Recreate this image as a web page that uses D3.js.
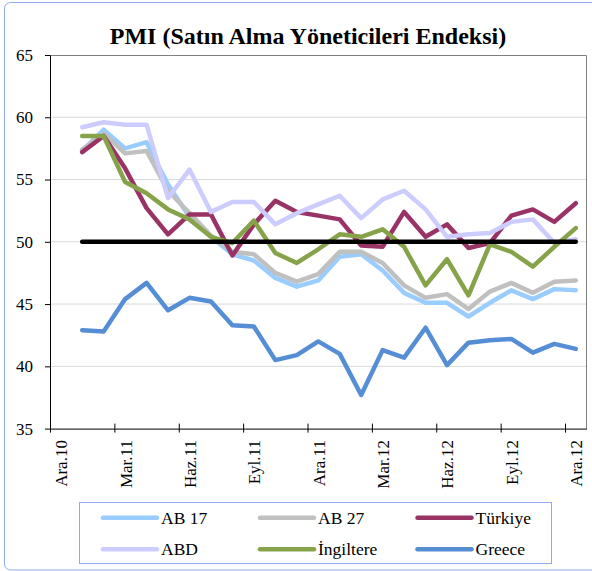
<!DOCTYPE html>
<html><head><meta charset="utf-8">
<script src="https://cdn.jsdelivr.net/npm/d3@7"></script>
<style>
body{margin:0;background:#fff}
svg{display:block}
text{font-family:"Liberation Serif","Times New Roman",serif;fill:#000}
</style>
</head><body>
<svg id="c" width="592" height="571"></svg>
<script>
// ---- data ----
const tickIdx = [0, 3, 6, 9, 12, 15, 18, 21, 24];
const tickLabels = ["Ara.10", "Mar.11", "Haz.11", "Eyl.11", "Ara.11", "Mar.12", "Haz.12", "Eyl.12", "Ara.12"];
const yTicks = [35, 40, 45, 50, 55, 60, 65];
const seriesNames = ["AB 17", "AB 27", "Türkiye", "ABD", "İngiltere", "Greece"];
const ab17 = [57.3, 59.0, 57.5, 58.0, 54.6, 52.0, 50.4, 49.0, 48.5, 47.1, 46.4, 46.9, 48.8, 49.0, 47.7, 45.9, 45.1, 45.1, 44.0, 45.1, 46.1, 45.4, 46.2, 46.1];
const ab27 = [57.4, 58.7, 57.1, 57.3, 54.1, 52.3, 50.5, 49.2, 49.0, 47.5, 46.8, 47.4, 49.2, 49.2, 48.3, 46.5, 45.5, 45.8, 44.6, 46.0, 46.7, 45.9, 46.8, 46.9];
const turkiye = [57.2, 58.5, 55.9, 52.7, 50.6, 52.2, 52.2, 48.9, 51.4, 53.3, 52.4, 52.1, 51.8, 49.7, 49.6, 52.4, 50.4, 51.4, 49.5, 49.9, 52.1, 52.6, 51.6, 53.1];
const abd = [59.2, 59.6, 59.4, 59.4, 53.5, 55.8, 52.4, 53.2, 53.2, 51.4, 52.3, 53.0, 53.7, 51.9, 53.4, 54.1, 52.6, 50.4, 50.6, 50.7, 51.6, 51.8, 49.9, 50.2];
const ingiltere = [58.5, 58.5, 54.8, 53.9, 52.6, 51.8, 50.4, 49.9, 51.7, 49.1, 48.3, 49.4, 50.6, 50.4, 51.0, 49.6, 46.5, 48.6, 45.7, 49.8, 49.2, 48.0, 49.6, 51.1];
const greece = [42.9, 42.8, 45.4, 46.7, 44.5, 45.5, 45.2, 43.3, 43.2, 40.5, 40.9, 42.0, 41.0, 37.7, 41.3, 40.7, 43.1, 40.1, 41.9, 42.1, 42.2, 41.1, 41.8, 41.4];
const threshold = 50;

const colors = ["#99ccff", "#c0c0c0", "#993366", "#ccccff", "#86a34a", "#558ed5"];
const allSeries = [ab17, ab27, turkiye, abd, ingiltere, greece];

// ---- layout ----
const svg = d3.select("#c");
const L = 50, R = 586.5, T = 55, B = 428.6;
const x = d3.scaleLinear().domain([0, 25]).range([L, R]);
const y = d3.scaleLinear().domain([35, 65]).range([B, T]);

// outer frame
svg.append("rect").attr("x", 4.5).attr("y", 2.5).attr("width", 640).attr("height", 567.5)
  .attr("rx", 6).attr("fill", "none").attr("stroke", "#8faaf0").attr("stroke-width", 1);

// title
svg.append("text").attr("x", 308).attr("y", 43.5).attr("text-anchor", "middle")
  .style("font-size", "24px").style("font-weight", "bold")
  .text("PMI (Satın Alma Yöneticileri Endeksi)");

// gridlines
svg.append("g").selectAll("line").data(yTicks.filter(v => v > 35 && v < 65)).join("line")
  .attr("x1", L).attr("x2", R).attr("y1", d => y(d)).attr("y2", d => y(d))
  .attr("stroke", "#d9d9d9").attr("stroke-width", 1);

// plot border (top, right)
svg.append("path").attr("d", `M${L},${T + 0.5}H${R}V${B}`).attr("fill", "none")
  .attr("stroke", "#7f7f7f").attr("stroke-width", 1);

// y axis
const gy = svg.append("g").attr("transform", `translate(${L},0)`)
  .call(d3.axisLeft(y).tickValues(yTicks).tickSize(5).tickSizeOuter(0).tickPadding(12));
gy.attr("font-family", null);
gy.select(".domain").attr("stroke", "#000");
gy.selectAll(".tick line").attr("stroke", "#000");
gy.selectAll(".tick text").style("font-size", "17px").style("font-family", "'Liberation Serif',serif");

// x axis
const gx = svg.append("g").attr("transform", `translate(0,${B})`)
  .call(d3.axisBottom(x).tickValues(tickIdx).tickFormat((d, i) => tickLabels[i]).tickSize(4).tickSizeOuter(0));
gx.attr("font-family", null);
gx.select(".domain").attr("stroke", "#000");
gx.selectAll(".tick line").attr("stroke", "#000").attr("y1", -5);
const half = x(0.5) - x(0);
gx.selectAll(".tick text")
  .attr("x", 0).attr("y", 0).attr("dy", "0.35em")
  .attr("text-anchor", "end")
  .attr("transform", `translate(${half},11.5) rotate(-90)`)
  .style("font-size", "17px").style("font-family", "'Liberation Serif',serif");

// series
const line = d3.line().x((d, i) => x(i + 1.5)).y(d => y(d));
svg.append("g").selectAll("path").data(allSeries).join("path")
  .attr("d", d => line(d)).attr("fill", "none")
  .attr("stroke", (d, i) => colors[i]).attr("stroke-width", 4.5)
  .attr("stroke-linejoin", "round").attr("stroke-linecap", "round");

// 50 threshold line
svg.append("line").attr("x1", x(1.5)).attr("x2", x(24.5))
  .attr("y1", y(threshold)).attr("y2", y(threshold))
  .attr("stroke", "#000").attr("stroke-width", 4.5).attr("stroke-linecap", "round");

// legend
svg.append("rect").attr("x", 79.5).attr("y", 502.5).attr("width", 472).attr("height", 61)
  .attr("fill", "#fff").attr("stroke", "#8faaf0").attr("stroke-width", 1);
const colX = [103, 260, 417.5], rowY = [517.7, 549.3];
seriesNames.forEach((name, i) => {
  const cx = colX[i % 3], ry = rowY[Math.floor(i / 3)];
  svg.append("line").attr("x1", cx).attr("x2", cx + 54).attr("y1", ry).attr("y2", ry)
    .attr("stroke", colors[i]).attr("stroke-width", 4.5).attr("stroke-linecap", "round");
  svg.append("text").attr("x", cx + 58).attr("y", ry + 6).style("font-size", "17.5px").text(name);
});
</script>
</body></html>
